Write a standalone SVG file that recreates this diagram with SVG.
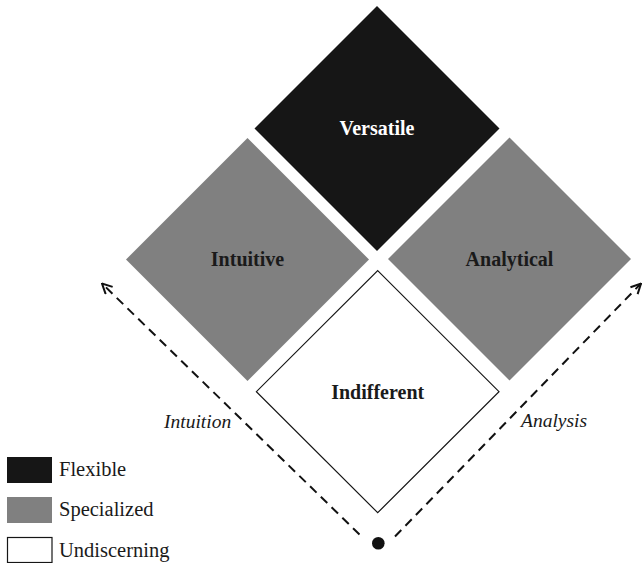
<svg xmlns="http://www.w3.org/2000/svg" width="644" height="563" viewBox="0 0 644 563">
  <style>
    .flex { fill: #161616; }
    .spec { fill: #808080; }
    .undi { fill: #ffffff; stroke: #161616; stroke-width: 1.2; }
    .lbl { font-family: "Liberation Serif", "Times New Roman", serif; font-weight: bold; font-size: 20px; text-anchor: middle; fill: #1a1a1a; }
    .lbl.inv { fill: #ffffff; }
    .axis { fill: none; stroke: #111111; stroke-width: 2; stroke-dasharray: 9 6; }
    .axtxt { font-family: "Liberation Serif", "Times New Roman", serif; font-style: italic; font-size: 19.5px; fill: #1a1a1a; }
    .leg { font-family: "Liberation Serif", "Times New Roman", serif; font-size: 20.5px; fill: #1a1a1a; }
  </style>
  <defs>
    <marker id="chev" viewBox="0 0 12 12" refX="11" refY="6" markerWidth="12" markerHeight="12" markerUnits="userSpaceOnUse" orient="auto">
      <path d="M1,1 L11,6 L1,11" fill="none" stroke="#111111" stroke-width="2"/>
    </marker>
  </defs>

  <!-- axes -->
  <g id="connectors">
    <line class="axis" x1="359.5" y1="534.5" x2="102" y2="283.5" marker-end="url(#chev)"/>
    <line class="axis" x1="395" y1="536.5" x2="641" y2="283.5" marker-end="url(#chev)"/>
    <circle cx="378.3" cy="543.3" r="6.3" fill="#111111"/>
    <text class="axtxt" x="164" y="428">Intuition</text>
    <text class="axtxt" x="521" y="427">Analysis</text>
  </g>

  <g id="versatile">
    <polygon class="flex" points="377,6 499.5,128.5 377,251 254.5,128.5"/>
    <text class="lbl inv" x="377" y="135">Versatile</text>
  </g>

  <g id="intuitive">
    <polygon class="spec" points="247.5,138 369,259.5 247.5,381 126,259.5"/>
    <text class="lbl" x="247.5" y="266">Intuitive</text>
  </g>

  <g id="analytical">
    <polygon class="spec" points="509.5,137.5 631,259 509.5,380.5 388,259"/>
    <text class="lbl" x="509.5" y="265.5">Analytical</text>
  </g>

  <g id="indifferent">
    <polygon class="undi" points="377.7,270.7 499,391.7 377.7,512.7 256.4,391.7"/>
    <text class="lbl" x="377.7" y="398.5">Indifferent</text>
  </g>

  <!-- legend -->
  <g id="legend">
    <rect class="flex" x="7" y="457" width="45" height="26"/>
    <text class="leg" x="59" y="476">Flexible</text>
    <rect class="spec" x="7" y="497" width="45" height="26"/>
    <text class="leg" x="59" y="516">Specialized</text>
    <rect class="undi" x="7.5" y="537.5" width="44.5" height="25"/>
    <text class="leg" x="59" y="556.5">Undiscerning</text>
  </g>
</svg>
